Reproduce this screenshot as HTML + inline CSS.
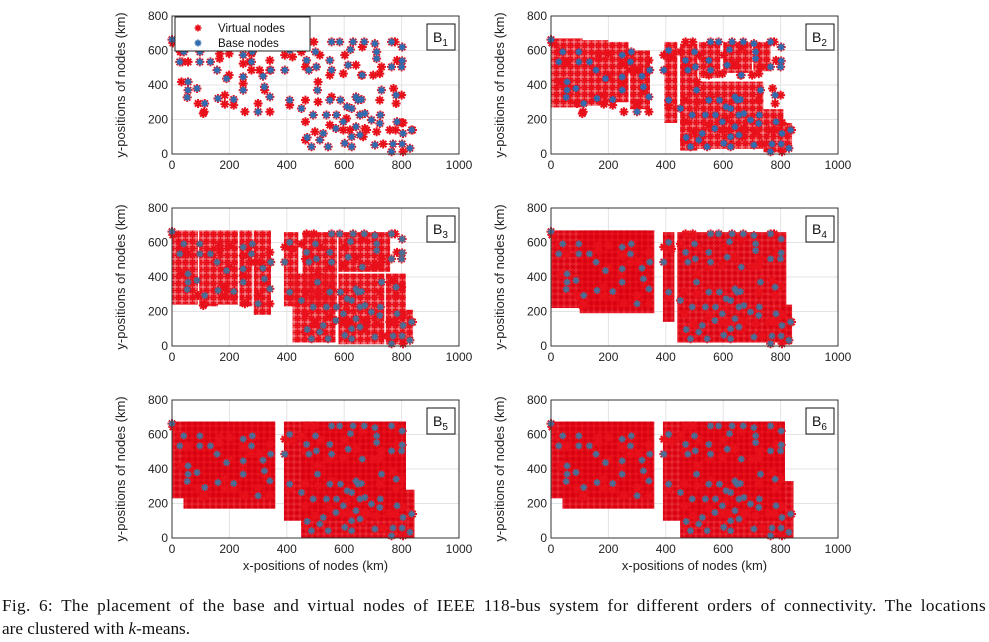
<!DOCTYPE html>
<html><head><meta charset="utf-8"><style>
body{margin:0;background:#fff;width:989px;height:642px;overflow:hidden;font-family:"Liberation Sans",sans-serif}
#cap{position:absolute;left:2px;top:594px;width:984px;font-family:"Liberation Serif",serif;font-size:17.2px;line-height:23px;color:#111}
#cap .l1{text-align:justify;text-align-last:justify;white-space:nowrap;letter-spacing:0.35px}
</style></head><body>
<svg id="chart" width="989" height="590" style="position:absolute;left:0;top:0" font-family="Liberation Sans, sans-serif"></svg>
<div id="cap"><div class="l1">Fig. 6: The placement of the base and virtual nodes of IEEE 118-bus system for different orders of connectivity. The locations</div><div>are clustered with <i>k</i>-means.</div></div>
<script>
const xTicks=[0,200,400,600,800,1000];
const yTicks=[0,200,400,600,800];
const panelNames=["1","2","3","4","5","6"];
const baseX=[0,56,56,53,41,27,134,97,97,157,190,215,248,248,280,277,87,114,160,248,317,322,300,344,341,410,393,410,451,469,477,492,486,471,500,503,507,515,544,538,550,556,556,584,571,573,597,610,614,622,631,626,641,641,648,660,670,663,655,626,672,695,707,724,726,730,713,713,707,765,765,781,784,770,765,800,802,802,802,805,829,835,626,602,655,527,587,550];
const baseY=[663,418,370,328,592,534,534,534,592,486,437,316,370,447,592,534,380,293,322,573,451,389,245,486,331,601,486,312,264,543,486,226,42,96,592,505,370,81,42,226,543,486,650,650,148,226,187,274,515,605,650,264,331,158,312,316,650,457,110,42,235,197,52,177,226,370,592,553,640,650,505,341,187,58,13,505,540,620,58,119,33,139,100,62,226,119,312,312];
const virtX=[33,36,56,3,29,112,91,109,166,166,199,199,184,184,215,248,248,254,271,277,277,300,305,323,341,341,341,393,420,410,451,465,465,465,465,469,494,509,509,498,515,550,550,556,597,608,602,641,660,663,655,666,672,713,701,730,736,724,724,784,781,779,772,777,800,805,805,800,838,759,678,620,597];
const virtY=[418,534,534,644,592,245,293,235,553,582,582,457,341,289,283,524,409,245,534,582,486,293,486,370,245,486,543,573,563,283,592,505,312,81,187,650,650,418,302,129,573,457,168,331,466,206,573,515,457,620,226,100,148,129,457,505,58,312,466,543,293,139,380,650,341,13,181,181,139,139,139,139,139];
const regions2=[[0,110,270,670],[110,200,280,660],[200,270,300,650],[275,345,260,600],[395,440,180,650],[450,510,20,640],[515,590,440,650],[600,700,470,650],[705,765,480,650],[510,740,30,420],[740,810,10,260],[810,840,20,180]];
const regions3=[[0,90,240,670],[95,160,230,670],[160,230,240,670],[235,280,230,670],[285,345,180,670],[390,440,230,660],[455,575,230,660],[580,760,430,660],[420,570,20,420],[580,740,10,420],[745,815,10,420],[815,840,40,210]];
const regions4=[[0,345,220,670],[100,360,190,670],[390,430,140,660],[440,820,20,660],[800,840,10,240]];
const regions5=[[0,355,230,675],[40,360,170,675],[390,815,100,675],[450,815,0,675],[815,845,0,280]];
const regions6=[[0,355,230,675],[40,360,170,675],[390,815,100,675],[450,815,0,675],[800,845,0,330]];
const allRegions=[[],regions2,regions3,regions4,regions5,regions6];
const NS="http://www.w3.org/2000/svg";
const svg=document.getElementById('chart');
function mk(t,a,p){const e=document.createElementNS(NS,t);for(const k in a)e.setAttribute(k,a[k]);(p||svg).appendChild(e);return e;}
const defs=mk('defs',{});
const pat=mk('pattern',{id:'vp',width:6,height:6,patternUnits:'userSpaceOnUse'},defs);
mk('rect',{width:6,height:6,fill:'#e8101a',opacity:0.9},pat);
mk('path',{d:'M3 0V6M0 3H6M1 1L5 5M5 1L1 5',stroke:'#d80010',"stroke-width":1},pat);
const pat2=mk('pattern',{id:'vp2',width:7,height:7,patternUnits:'userSpaceOnUse'},defs);
mk('rect',{width:7,height:7,fill:'#e8101a',opacity:0.55},pat2);
mk('path',{d:'M3.5 0V7M0 3.5H7M1 1L6 6M6 1L1 6',stroke:'#e8101a',"stroke-width":1.8},pat2);
const W=287,H=138;
const lefts=[172,551],tops=[16,208,400];
function star(g,cx,cy,col,r,sw){mk('path',{d:`M${cx} ${cy-r}V${cy+r}M${cx-r} ${cy}H${cx+r}M${cx-r*0.7} ${cy-r*0.7}L${cx+r*0.7} ${cy+r*0.7}M${cx+r*0.7} ${cy-r*0.7}L${cx-r*0.7} ${cy+r*0.7}`,stroke:col,"stroke-width":sw},g);}
for(let p=0;p<6;p++){
  const L=lefts[p%2],T=tops[Math.floor(p/2)];
  const xs=v=>L+v/1000*W, ys=v=>T+H-v/800*H;
  const g=mk('g',{});
  
  
  mk('rect',{x:L,y:T,width:W,height:H,fill:'#fff'},g);
  xTicks.forEach(t=>{mk('line',{x1:xs(t),x2:xs(t),y1:T,y2:T+H,stroke:'#e3e3e3'},g);
    const tx=mk('text',{x:xs(t),y:T+H+15,"font-size":12,"text-anchor":"middle",fill:'#222'},g);tx.textContent=t;
    });
  yTicks.forEach(t=>{mk('line',{x1:L,x2:L+W,y1:ys(t),y2:ys(t),stroke:'#e3e3e3'},g);
    const tx=mk('text',{x:L-4,y:ys(t)+4,"font-size":12,"text-anchor":"end",fill:'#222'},g);tx.textContent=t;
    });
  const cg=mk('g',{},g);
  allRegions[p].forEach(r=>{const e=mk('rect',{x:xs(r[0]),y:ys(r[3]),width:xs(r[1])-xs(r[0]),height:ys(r[2])-ys(r[3]),fill:p<3?'url(#vp2)':'url(#vp)'},cg);
    });
  virtX.forEach((v,i)=>star(cg,xs(v),ys(virtY[i]),'#e8101a',4.5,2));
  baseX.forEach((v,i)=>star(cg,xs(v),ys(baseY[i]),'#e8101a',4.5,2));
  baseX.forEach((v,i)=>star(cg,xs(v),ys(baseY[i]),p<2?'#2f6db0':'#4a6e96',3.5,1.6));
  mk('rect',{x:L,y:T,width:W,height:H,fill:'none',stroke:'#333',"stroke-width":1},g);
  const bx=L+255,by=T+8;
  mk('rect',{x:bx,y:by,width:28,height:26,fill:'#fff',stroke:'#111'},g);
  const lb=mk('text',{x:bx+6,y:by+18,"font-size":14,fill:'#111'},g);
  
  lb.innerHTML='B<tspan font-size="10" dy="4">'+panelNames[p]+'</tspan>';
  const yl=mk('text',{transform:`translate(${L-47},${T+H/2}) rotate(-90)`,"font-size":13,"text-anchor":"middle",fill:'#222'},g);
  yl.textContent='y-positions of nodes (km)';
  
  if(p>=4){const xl=mk('text',{x:L+W/2,y:T+H+32,"font-size":13,"text-anchor":"middle",fill:'#222'},g);
    xl.textContent='x-positions of nodes (km)';
    }
  if(p===0){const lg=mk('g',{},g);
    
    mk('rect',{x:175,y:17,width:135,height:34,fill:'#fff',stroke:'#222'},lg);
    star(lg,198,28,'#e8101a',3.5,1.6);star(lg,198,43,'#2f6db0',3.5,1.6);
    const t1=mk('text',{x:218,y:32,"font-size":11.5,fill:'#111'},lg);t1.textContent='Virtual nodes';
    
    const t2=mk('text',{x:218,y:47,"font-size":11.5,fill:'#111'},lg);t2.textContent='Base nodes';
    }
}
</script>
</body></html>
